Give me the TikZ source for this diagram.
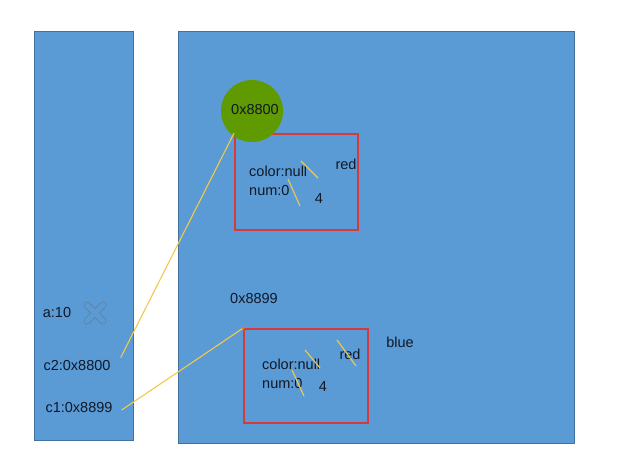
\documentclass[tikz,border=0pt]{standalone}
\usepackage{fontspec}
\setmainfont{Liberation Sans}
\usepackage{xcolor}
\usetikzlibrary{arrows.meta, positioning}
\definecolor{panelblue}{HTML}{5B9BD5}
\definecolor{panelline}{HTML}{41719C}
\definecolor{boxred}{HTML}{D83A3A}
\definecolor{penyellow}{HTML}{F2C94C}
\definecolor{hilite}{HTML}{5F9A00}
\definecolor{inktext}{HTML}{111827}

\begin{document}
\begin{tikzpicture}[x=1pt, y=1pt, font=\fontsize{14.5}{16}\selectfont, node distance=9pt,
  panel/.style={draw=panelline, fill=panelblue, line width=0.8pt},
  objbox/.style={draw=boxred, line width=1.8pt},
  txt/.style={text=inktext, inner sep=0pt},
  strike/.style={penyellow, line width=1.1pt},
  ptr/.style={penyellow, line width=1.1pt}]
  \useasboundingbox[fill=white] (0,0) rectangle (618,460);
  % stack and heap
  \draw[panel] (34,20) rectangle (133,429);
  \draw[panel] (178,17) rectangle (574,429);
  % objects on the heap
  \node[objbox, minimum width=123pt, minimum height=96pt, anchor=south west] (obj1) at (234,229) {};
  \node[objbox, minimum width=124pt, minimum height=94pt, anchor=south west] (obj2) at (243,36) {};
  % first object
  \fill[hilite] (252,349) circle (31);
  \node[txt] (addr1) at (255,350) {0x8800};
  \node[txt, anchor=west] (color1) at (249,289) {color:null};
  \node[txt, below=of color1.south west, anchor=north west] (num1) {num:0};
  \node[txt] (red1) at (346,296) {red};
  \node[txt] (four1) at (319,261) {4};
  \draw[strike] (301,299) -- (318,282);
  \draw[strike] (288,281) -- (300,254);
  % second object
  \node[txt] (addr2) at (254,161) {0x8899};
  \node[txt, anchor=west] (color2) at (262,96) {color:null};
  \node[txt, below=of color2.south west, anchor=north west] (num2) {num:0};
  \node[txt] (red2) at (350,106) {red};
  \node[txt] (four2) at (323,73) {4};
  \node[txt] (blue2) at (400,118) {blue};
  \draw[strike] (305,110) -- (320,92);
  \draw[strike] (292,90) -- (304,64);
  \draw[strike] (337,120) -- (356,94);
  % stack entries
  \node[txt] (a) at (57,147) {a:10};
  \node[txt, right=20pt of a] (xmark) {\phantom{x}};
  \draw[panelline!85, line width=7pt, line cap=round] ([shift={(-8,-8)}]xmark.center) -- ([shift={(8,8)}]xmark.center)
    ([shift={(-8,8)}]xmark.center) -- ([shift={(8,-8)}]xmark.center);
  \draw[panelblue, line width=5pt, line cap=round] ([shift={(-8,-8)}]xmark.center) -- ([shift={(8,8)}]xmark.center)
    ([shift={(-8,8)}]xmark.center) -- ([shift={(8,-8)}]xmark.center);
  \node[txt] (c2) at (77,94) {c2:0x8800};
  \node[txt] (c1) at (79,52) {c1:0x8899};
  % references
  \draw[ptr] ([xshift=10pt, yshift=3pt]c2.north east) -- (obj1.north west);
  \draw[ptr] ([xshift=9pt, yshift=-2pt]c1.east) -- (obj2.north west);
  \fill[orange] (obj2.north west) circle (1.5);
\end{tikzpicture}
\end{document}
